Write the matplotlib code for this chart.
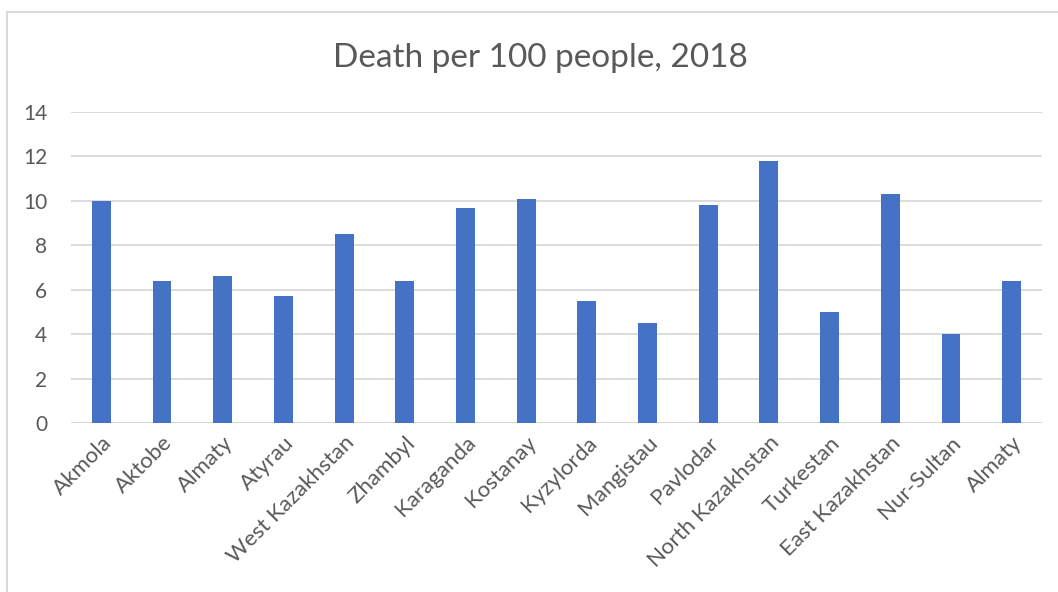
import matplotlib.pyplot as plt
from matplotlib.patches import Rectangle

# regiones y muertes por cada 100 personas (2018)
regiones = ["Akmola", "Aktobe", "Almaty", "Atyrau", "West Kazakhstan", "Zhambyl",
            "Karaganda", "Kostanay", "Kyzylorda", "Mangistau", "Pavlodar",
            "North Kazakhstan", "Turkestan", "East Kazakhstan", "Nur-Sultan", "Almaty"]
muertes = [10.0, 6.4, 6.6, 5.7, 8.5, 6.4, 9.7, 10.1, 5.5, 4.5, 9.8, 11.8, 5.0, 10.3, 4.0, 6.4]
ticks_y = [0, 2, 4, 6, 8, 10, 12, 14]

plt.rcParams['font.family'] = ['Lato', 'DejaVu Sans']
gris = '#595959'

fig = plt.figure(figsize=(10.58, 5.92), dpi=100)
W, H = 1058, 592

# marco exterior del grafico (sale por la derecha y por abajo)
fig.patches.append(Rectangle((7 / W, -0.1), 1.2, 1.1 - 12 / H,
                             transform=fig.transFigure, fill=False,
                             edgecolor='#d9d9d9', linewidth=1.5))

ax = fig.add_axes([71 / W, 1 - 423 / H, (1042 - 71) / W, (423 - 112) / H])
x = range(len(muertes))
ax.bar(x, muertes, width=0.31, color='#4472c4', zorder=3)

ax.set_xlim(-0.5, len(muertes) - 0.5)
ax.set_ylim(0, 14)
ax.set_yticks(ticks_y)
ax.yaxis.grid(True, color='#d9d9d9', linewidth=1.3, zorder=0)
for s in ax.spines.values():
    s.set_visible(False)
ax.axhline(0, color='#d9d9d9', linewidth=1.3, zorder=2)

ax.tick_params(axis='y', length=0, pad=17, labelsize=15, labelcolor=gris)
ax.tick_params(axis='x', length=0, pad=7, labelsize=16, labelcolor=gris)
ax.set_xticks(list(x))
ax.set_xticklabels(regiones, rotation=45, ha='right', rotation_mode='anchor')

fig.text(540 / W, 1 - 58 / H, "Death per 100 people, 2018", ha='center', va='center',
         fontsize=24, color=gris)

fig.savefig("out.png", dpi=100, facecolor='white')
